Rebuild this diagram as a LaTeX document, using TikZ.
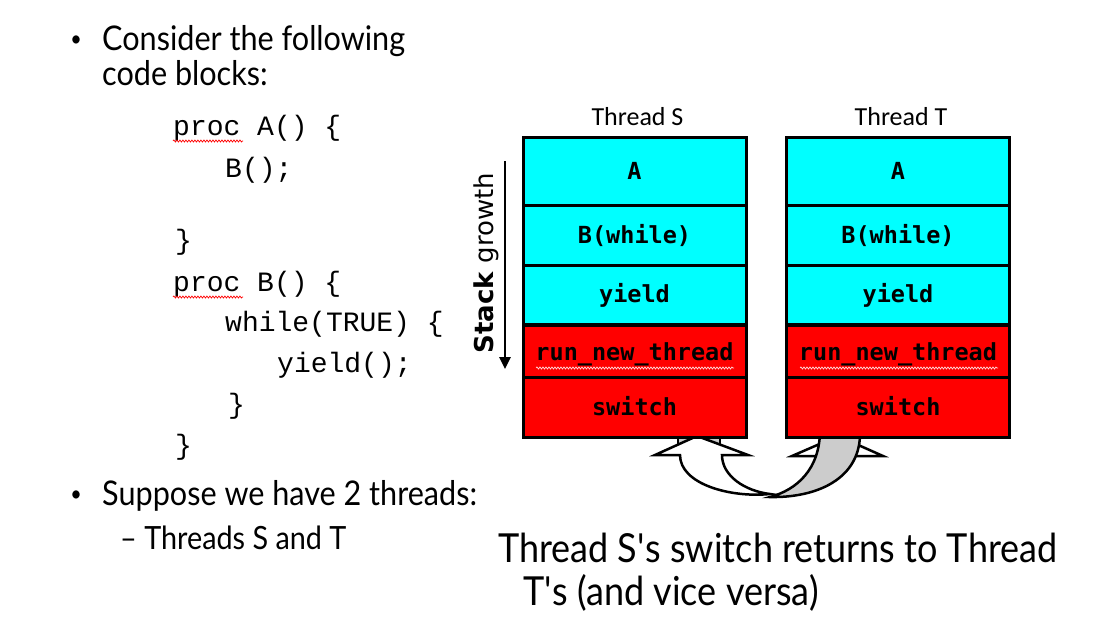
\documentclass[tikz,border=0pt]{standalone}
\usepackage{fontspec}
\setmainfont[FakeStretch=0.9]{Lato}
\newfontfamily\codefont{Liberation Mono}
\newfontfamily\cellfont{DejaVu Sans Mono}
\newfontfamily\headfont{Carlito}
\newfontfamily\growfont{DejaVu Sans}
\usepackage{tikz}
\usetikzlibrary{arrows.meta,decorations.pathmorphing}
\definecolor{stackcyan}{RGB}{0,255,255}
\definecolor{stackred}{RGB}{255,0,0}
\definecolor{swgray}{RGB}{204,204,204}

\begin{document}
\begin{tikzpicture}[x=1pt,y=-1pt,
  txt/.style={anchor=base west,inner sep=0pt,font=\fontsize{34}{40}\selectfont},
  pt/.style={anchor=base,inner sep=0pt,font=\fontsize{22}{26}\selectfont},
  code/.style={anchor=base west,inner sep=0pt,font=\codefont\fontsize{28}{32}\selectfont},
  frame/.style={draw,line width=3pt,minimum width=223pt,inner sep=0pt,text height=18pt,text depth=2pt,
    font=\cellfont\bfseries\fontsize{23.5}{28}\selectfont},
  spell/.style={draw=#1,line width=0.7pt,decorate,decoration={snake,amplitude=1pt,segment length=3pt}},
  swarrow/.style={draw,line width=2.5pt,line join=miter}]
\useasboundingbox (0,0) rectangle (1094,643);

% left column: bullets and code
\node[pt] (dot1) at (76,46) {•};
\node[txt] (consider) at (102,50) {Consider the following};
\node[txt] (blocks) at (102,85) {code blocks:};
\foreach \x/\y/\n/\1 in %
{173/135/c1/{proc A() \{}, 225/177/c2/{B();}, 175/249/c3/{\}}, 173/291/c4/{proc B() \{},
 225/331/c5/{while(TRUE) \{}, 277/372/c6/{yield();}, 228/413/c7/{\}}, 175/454/c8/{\}}} {
   \node[code] (\n) at (\x,\y) {\1};
}
\draw[spell=red] (173,141) -- (243,141);
\draw[spell=red] (173,297) -- (243,297);
\node[pt] (dot2) at (76,501) {•};
\node[txt] (suppose) at (102,505) {Suppose we have 2 threads:};
\node[txt,font=\fontsize{32}{38}\selectfont] (threads) at (120,549) {– Threads S and T};

% switch arrows (behind the stacks)
\fill[swgray] (678,430) rectangle (720,452);
\draw[line width=2.5pt] (678,430) -- (678,452) (720,430) -- (720,452);
\draw[swarrow,fill=white] (680,455) -- (655,455) -- (697,436) -- (748,455) -- (722,455)
   .. controls (722,476) and (745,491) .. (770,494)
   .. controls (730,498) and (680,484) .. (680,455) -- cycle;
\draw[swarrow,fill=white] (792,456) -- (838,436) -- (883,456) -- cycle;
\draw[swarrow,fill=swgray] (820,430) -- (860,430)
   .. controls (862,480) and (815,498) .. (770,497)
   .. controls (796,490) and (820,470) .. (820,430) -- cycle;

% the two stacks
\foreach \t/\cx in {S/634.5,T/898} {
   \node[anchor=base,inner sep=0pt,font=\headfont\fontsize{26}{30}\selectfont] (head\t) at (\cx+3,125) {Thread \t};
   \foreach \n/\cy/\h/\c/\1 in %
   {a/171/68/stackcyan/A, b/235/60/stackcyan/B(while), y/294.5/59/stackcyan/yield,
    r/352/53/stackred/run\_new\_thread, s/407/60/stackred/switch} {
      \node[frame,fill=\c,minimum height=\h] (\t\n) at (\cx,\cy) {\1};
   }
}
\draw[spell=white!85!red] (536,368) -- (734,368);
\draw[spell=white!85!red] (800,368) -- (998,368);

% stack growth
\coordinate (growtop) at (505,161);
\coordinate (growend) at (505,369);
\draw[line width=2.5pt,-{Triangle[length=12pt,width=11pt]}] (growtop) -- (growend);
\node[rotate=90,anchor=base,inner sep=0pt,font=\growfont\fontsize{26}{30}\selectfont] (growlbl) at (493,263) {\textbf{Stack} growth};

% caption
\node[txt,font=\fontsize{40}{48}\selectfont] (cap1) at (498,562) {Thread S\textquotesingle s switch returns to Thread};
\node[txt,font=\fontsize{40}{48}\selectfont] (cap2) at (523,605) {T\textquotesingle s (and vice versa)};
\end{tikzpicture}
\end{document}
